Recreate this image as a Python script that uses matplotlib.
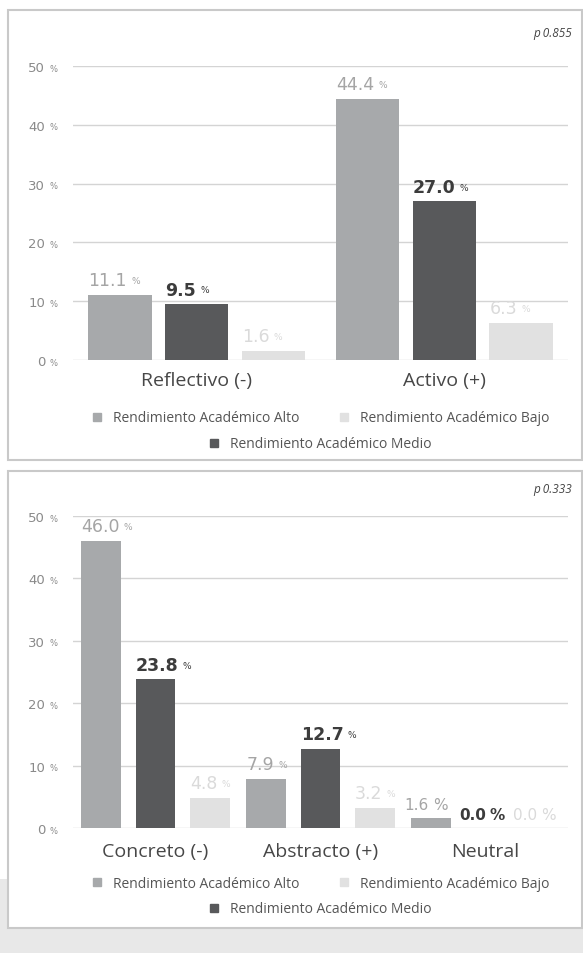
import matplotlib.pyplot as plt
from matplotlib.patches import Rectangle
from matplotlib.lines import Line2D

plt.rcParams['font.family'] = ['Open Sans', 'DejaVu Sans']

series = ['Rendimiento Académico Alto', 'Rendimiento Académico Medio', 'Rendimiento Académico Bajo']
cats_top = ['Reflectivo (-)', 'Activo (+)']
alto_top = [11.1, 44.4]
medio_top = [9.5, 27.0]
bajo_top = [1.6, 6.3]
p_top = 'p 0.855'

cats_bot = ['Concreto (-)', 'Abstracto (+)', 'Neutral']
alto_bot = [46.0, 7.9, 1.6]
medio_bot = [23.8, 12.7, 0.0]
bajo_bot = [4.8, 3.2, 0.0]
p_bot = 'p 0.333'

yticks = [0, 10, 20, 30, 40, 50]

bar_col = ['#a7a9ab', '#58595b', '#e1e1e1']
lab_col = ['#a5a5a5', '#3c3c3c', '#dadada']
num_font = 'DejaVu Sans'

W, H = 583, 954
fig = plt.figure(figsize=(W / 100, H / 100), dpi=100)

# grey page background at the bottom and the two white frames
fig.patches.append(Rectangle((0, 0), 1, 74 / H, transform=fig.transFigure,
                             facecolor='#e8e8e8', edgecolor='none', zorder=0))
for top, bot in [(11, 461), (472, 929)]:
    fig.patches.append(Rectangle((8 / W, 1 - bot / H), (W - 9) / W, (bot - top) / H,
                                 transform=fig.transFigure, facecolor='white',
                                 edgecolor='#c9c9c9', lw=1.5, zorder=1))


def panel(rect, cats, vals, width, step, pval, ptop, xpad, big_pct_group=None):
    ax = fig.add_axes(rect)
    ax.set_zorder(2)
    ax.patch.set_alpha(0)
    n = len(cats)
    for i, v in enumerate(vals):
        xs = [k + (i - 1) * step for k in range(n)]
        ax.bar(xs, v, width, color=bar_col[i], zorder=2)
        for g, (x, y) in enumerate(zip(xs, v)):
            big = big_pct_group == g
            t = ax.annotate(f'{y:.1f}', (x - width / 2, y), xytext=(-5 if big else 0, 4),
                            textcoords='offset points', ha='left', va='bottom',
                            fontsize=11 if big else 12.5, color=lab_col[i], family=num_font,
                            fontweight='bold' if i == 1 else 'normal')
            ax.annotate('%', xy=(1, 0), xycoords=t, xytext=(3, 0 if big else 3),
                        textcoords='offset points', ha='left', va='bottom',
                        fontsize=11 if big else 6.5, color=lab_col[i], family=num_font,
                        fontweight='bold' if (big and i == 1) else 'normal')
    ax.set_xlim(-0.5, n - 0.5)
    ax.set_ylim(0, 50)
    ax.set_yticks(yticks, labels=[str(t) for t in yticks])
    for t in yticks:
        ax.annotate('%', (-0.047, t), xycoords=ax.get_yaxis_transform(), xytext=(0, -1.5),
                    textcoords='offset points', ha='left', va='center', fontsize=6,
                    color='#8a8a8a', family=num_font, annotation_clip=False)
    ax.set_xticks(range(n), labels=cats)
    ax.tick_params(axis='y', length=0, pad=20, labelsize=9.5, labelcolor='#8a8a8a')
    for lab in ax.get_yticklabels():
        lab.set_family(num_font)
    ax.tick_params(axis='x', length=0, pad=xpad, labelsize=14, labelcolor='#474747')
    ax.grid(axis='y', color='#d4d4d4', lw=1, zorder=0)
    for s in ax.spines.values():
        s.set_visible(False)
    fig.text(572 / W, 1 - ptop / H, pval, ha='right', va='center', style='italic',
             fontsize=8.5, color='#444444', zorder=3)
    return ax


def legends(ax, y1, y2):
    h = [Line2D([], [], ls='none', marker='s', ms=6, color=c) for c in bar_col]
    kw = dict(frameon=False, fontsize=10, labelcolor='#555555', handlelength=0.9,
              handletextpad=0.7, borderpad=0, bbox_transform=fig.transFigure)
    cx = 320 / W
    l1 = ax.legend([h[0], h[2]], [series[0], series[2]], ncol=2, columnspacing=2.8,
                   loc='center', bbox_to_anchor=(cx, 1 - y1 / H), **kw)
    ax.add_artist(l1)
    ax.legend([h[1]], [series[1]], loc='center', bbox_to_anchor=(cx, 1 - y2 / H), **kw)


ax1 = panel([73 / W, 1 - 361 / H, 495 / W, 294 / H], cats_top,
            [alto_top, medio_top, bajo_top], 0.255, 0.31, p_top, 33, 8)
legends(ax1, 419, 445)

ax2 = panel([73 / W, 1 - 829 / H, 495 / W, 312 / H], cats_bot,
            [alto_bot, medio_bot, bajo_bot], 0.24, 0.33, p_bot, 490, 10, big_pct_group=2)
legends(ax2, 884, 910)

fig.savefig('out.png', dpi=100)
